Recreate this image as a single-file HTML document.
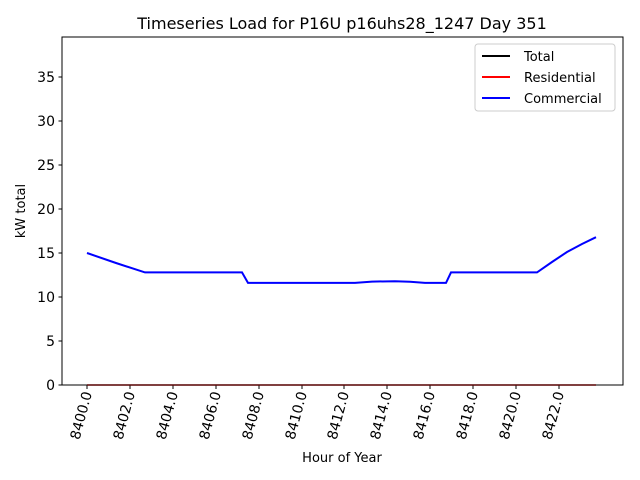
<!DOCTYPE html>
<html><head><style>body{margin:0;background:#fff}svg{display:block}text{font-family:"DejaVu Sans","Liberation Sans",sans-serif}</style></head><body>
<svg width="640" height="480" xmlns="http://www.w3.org/2000/svg">
<rect width="640" height="480" fill="#fff"/>
<text x="342" y="29" font-size="16" text-anchor="middle">Timeseries Load for P16U p16uhs28_1247  Day 351</text>
<g stroke="#000" stroke-width="1">
<line x1="62" y1="385" x2="62" y2="380.5"/>
</g>
<g font-size="14" text-anchor="end">
<g stroke="#000"><line x1="58.5" y1="385" x2="62" y2="385"/><line x1="58.5" y1="341" x2="62" y2="341"/><line x1="58.5" y1="297" x2="62" y2="297"/><line x1="58.5" y1="253" x2="62" y2="253"/><line x1="58.5" y1="209" x2="62" y2="209"/><line x1="58.5" y1="165" x2="62" y2="165"/><line x1="58.5" y1="121" x2="62" y2="121"/><line x1="58.5" y1="77" x2="62" y2="77"/></g>
<text x="55" y="390">0</text><text x="55" y="346">5</text><text x="55" y="302">10</text><text x="55" y="258">15</text><text x="55" y="214">20</text><text x="55" y="170">25</text><text x="55" y="126">30</text><text x="55" y="82">35</text>
</g>
<text transform="translate(25,211) rotate(-90)" font-size="13" text-anchor="middle">kW total</text>
<text x="342" y="462" font-size="13" text-anchor="middle">Hour of Year</text>
<g stroke="#000">
<line x1="87" y1="385" x2="87" y2="389"/><line x1="130" y1="385" x2="130" y2="389"/><line x1="173" y1="385" x2="173" y2="389"/><line x1="216" y1="385" x2="216" y2="389"/><line x1="259" y1="385" x2="259" y2="389"/><line x1="302" y1="385" x2="302" y2="389"/><line x1="344" y1="385" x2="344" y2="389"/><line x1="387" y1="385" x2="387" y2="389"/><line x1="430" y1="385" x2="430" y2="389"/><line x1="473" y1="385" x2="473" y2="389"/><line x1="516" y1="385" x2="516" y2="389"/><line x1="559" y1="385" x2="559" y2="389"/>
</g>
<g font-size="14" text-anchor="end">
<text transform="translate(92,393) rotate(-75)">8400.0</text>
<text transform="translate(135,393) rotate(-75)">8402.0</text>
<text transform="translate(178,393) rotate(-75)">8404.0</text>
<text transform="translate(221,393) rotate(-75)">8406.0</text>
<text transform="translate(264,393) rotate(-75)">8408.0</text>
<text transform="translate(307,393) rotate(-75)">8410.0</text>
<text transform="translate(349,393) rotate(-75)">8412.0</text>
<text transform="translate(392,393) rotate(-75)">8414.0</text>
<text transform="translate(435,393) rotate(-75)">8416.0</text>
<text transform="translate(478,393) rotate(-75)">8418.0</text>
<text transform="translate(521,393) rotate(-75)">8420.0</text>
<text transform="translate(564,393) rotate(-75)">8422.0</text>
</g>
<line x1="87" y1="385" x2="596" y2="385" stroke="#ff0000" stroke-width="1.5"/>
<polyline fill="none" stroke="#0000ff" stroke-width="2" points="87,253 116,263 145,272.4 242,272.4 248,282.9 355,282.9 372,281.6 395,281.2 410,281.8 425,282.9 446,282.9 451,272.4 537,272.4 552,262 567,252 582,244 596,237.2"/>
<rect x="62" y="37" width="561" height="348" fill="none" stroke="#000" stroke-width="1"/>
<rect x="475" y="44" width="140" height="67" fill="#fff" stroke="#ccc" rx="3"/>
<g stroke-width="2"><line x1="482" y1="56" x2="510" y2="56" stroke="#000"/><line x1="482" y1="77" x2="510" y2="77" stroke="#f00"/><line x1="482" y1="98" x2="510" y2="98" stroke="#00f"/></g>
<g font-size="13"><text x="524" y="61">Total</text><text x="524" y="82">Residential</text><text x="524" y="103">Commercial</text></g>
</svg>
</body></html>
